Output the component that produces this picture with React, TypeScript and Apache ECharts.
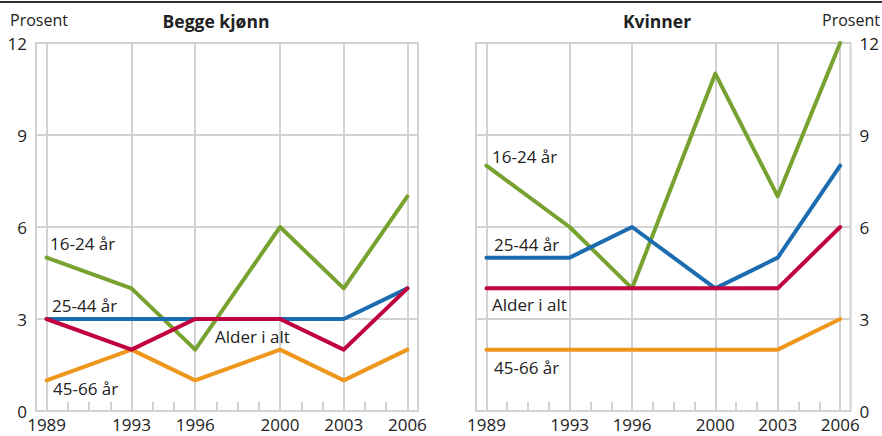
import React, { useEffect, useRef } from "react";
import * as echarts from "echarts";

const allYears = [1989, 1990, 1991, 1992, 1993, 1994, 1995, 1996, 1997, 1998, 1999, 2000, 2001, 2002, 2003, 2004, 2005, 2006];
const majorYears = [1989, 1993, 1996, 2000, 2003, 2006];

const leftTitle = "Begge kjønn";
const rightTitle = "Kvinner";
const unitLabel = "Prosent";

const seriesNames = ["45-66 år", "16-24 år", "25-44 år", "Alder i alt"];
const seriesColors = ["#ef971c", "#78a22f", "#1c6cb1", "#c1003f"];

// Begge kjønn
const bothAge4566 = [1, 2, 1, 2, 1, 2];
const bothAge1624 = [5, 4, 2, 6, 4, 7];
const bothAge2544 = [3, 3, 3, 3, 3, 4];
const bothTotal = [3, 2, 3, 3, 2, 4];

// Kvinner
const womenAge4566 = [2, 2, 2, 2, 2, 3];
const womenAge1624 = [8, 6, 4, 11, 7, 12];
const womenAge2544 = [5, 5, 6, 4, 5, 8];
const womenTotal = [4, 4, 4, 4, 4, 6];

const yTicks = [0, 3, 6, 9, 12];

const GRID = "#d2d2d2";
const TEXT = "#222";
const FONT = "'Open Sans', 'Noto Sans', sans-serif";

export default function App() {
  const ref = useRef<HTMLDivElement>(null);

  useEffect(() => {
    if (!ref.current) return;
    const chart = echarts.init(ref.current, null, { renderer: "svg" });

    const cats = allYears.map(String);
    const mkData = (vals: number[]) => majorYears.map((y, i) => [String(y), vals[i]]);

    const xAxisBase = (gridIndex: number) => ({
      type: "category",
      gridIndex,
      data: cats,
      boundaryGap: true,
      axisLine: { show: false },
      axisTick: {
        show: true,
        alignWithLabel: true,
        inside: true,
        interval: 0,
        length: 9,
        lineStyle: { color: GRID, width: 2 },
      },
      axisLabel: {
        interval: (idx: number, val: string) => majorYears.includes(Number(val)),
        fontSize: 17,
        color: TEXT,
        fontFamily: FONT,
        margin: 5,
      },
      splitLine: { show: false },
    });

    const yAxisBase = (gridIndex: number, position: string) => ({
      type: "value",
      gridIndex,
      position,
      min: yTicks[0],
      max: yTicks[yTicks.length - 1],
      interval: 3,
      axisLine: { show: false },
      axisTick: { show: false },
      axisLabel: {
        fontSize: 17,
        color: TEXT,
        fontFamily: FONT,
        margin: 9,
      },
      splitLine: { show: true, lineStyle: { color: GRID, width: 2 } },
    });

    const panelSeries = (idx: number, sets: number[][]) => {
      const out: any[] = [
        {
          type: "line",
          xAxisIndex: idx,
          yAxisIndex: idx,
          data: mkData(sets[0]),
          lineStyle: { width: 0, opacity: 0 },
          showSymbol: false,
          silent: true,
          z: 1,
          markLine: {
            silent: true,
            symbol: "none",
            label: { show: false },
            lineStyle: { color: GRID, width: 2, type: "solid" },
            data: majorYears.map((y) => ({ xAxis: String(y) })),
            z: 1,
          },
        },
      ];
      sets.forEach((vals, i) => {
        out.push({
          name: seriesNames[i],
          type: "line",
          xAxisIndex: idx,
          yAxisIndex: idx,
          data: mkData(vals),
          showSymbol: false,
          symbol: "none",
          lineStyle: { color: seriesColors[i], width: 4, cap: "round", join: "round" },
          itemStyle: { color: seriesColors[i] },
          z: 3 + i,
          silent: true,
        });
      });
      return out;
    };

    const txt = (x: number, y: number, text: string, extra: any = {}) => ({
      type: "text",
      x,
      y,
      style: {
        text,
        fill: TEXT,
        font: `${extra.bold ? "bold " : ""}${extra.size || 17}px ${FONT}`,
        textAlign: extra.align || "left",
        textVerticalAlign: "middle",
      },
      z: 100,
    });

    chart.setOption({
      animation: false,
      grid: [
        { left: 36, top: 43, width: 382, height: 368, show: true, borderColor: GRID, borderWidth: 2, containLabel: false },
        { left: 476, top: 43, width: 382, height: 368, show: true, borderColor: GRID, borderWidth: 2, containLabel: false },
      ],
      xAxis: [xAxisBase(0), xAxisBase(1)],
      yAxis: [yAxisBase(0, "left"), yAxisBase(1, "right")],
      series: [
        ...panelSeries(0, [bothAge4566, bothAge1624, bothAge2544, bothTotal]),
        ...panelSeries(1, [womenAge4566, womenAge1624, womenAge2544, womenTotal]),
      ],
      graphic: [
        { type: "line", shape: { x1: 0, y1: 2, x2: 882, y2: 2 }, style: { stroke: "#333", lineWidth: 2 } },
        txt(10, 20, unitLabel, { size: 16 }),
        txt(880, 20, unitLabel, { size: 16, align: "right" }),
        txt(216, 21, leftTitle, { bold: true, size: 17.5, align: "center" }),
        txt(657, 21, rightTitle, { bold: true, size: 17.5, align: "center" }),
        // left panel line labels
        txt(50, 243, seriesNames[1]),
        txt(52, 305, seriesNames[2]),
        txt(215, 336, seriesNames[3]),
        txt(53, 388, seriesNames[0]),
        // right panel line labels
        txt(492, 156, seriesNames[1]),
        txt(494, 244, seriesNames[2]),
        txt(492, 304, seriesNames[3]),
        txt(494, 367, seriesNames[0]),
      ],
    });

    return () => chart.dispose();
  }, []);

  return (
    <div
      ref={ref}
      style={{ position: "fixed", left: 0, top: 0, width: 882, height: 436, background: "#fff" }}
    />
  );
}
